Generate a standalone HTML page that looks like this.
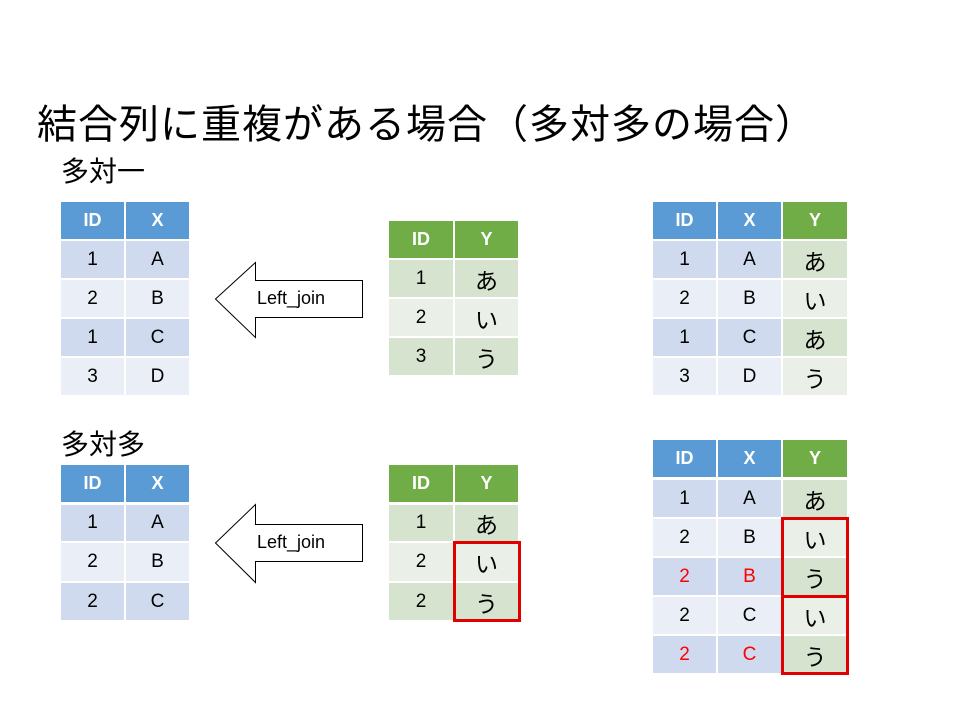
<!DOCTYPE html>
<html><head><meta charset="utf-8"><style>
body{margin:0;background:#fff;}
#p{position:relative;width:960px;height:720px;overflow:hidden;font-family:"Liberation Sans","Noto Sans CJK JP",sans-serif;}
.c{position:absolute;display:flex;align-items:center;justify-content:center;font-size:19px;color:#000;}
.k{font-size:23px;}
.hb{background:#5B9BD5;color:#fff;font-weight:bold;font-size:18px;}
.hg{background:#70AD47;color:#fff;font-weight:bold;font-size:18px;}
.b1{background:#CFDAEE;}
.b2{background:#E9EEF7;}
.g1{background:#D5E3CF;}
.g2{background:#EAF0E7;}
.r{color:#F00;}
.t{position:absolute;white-space:nowrap;color:#000;}
.box{position:absolute;border:3px solid #E00000;box-sizing:border-box;}
</style></head><body><div id="p">
<div class="t" style="left:37px;top:92px;font-size:40px;letter-spacing:1px;">結合列に重複がある場合（多対多の場合）</div>
<div class="t" style="left:61px;top:150px;font-size:28px;">多対一</div>
<div class="t" style="left:61px;top:423px;font-size:28px;">多対多</div>

<div class="c hb" style="left:61px;top:202px;width:63px;height:37px">ID</div>
<div class="c hb" style="left:126px;top:202px;width:63px;height:37px">X</div>
<div class="c b1" style="left:61px;top:241px;width:63px;height:37px">1</div>
<div class="c b1" style="left:126px;top:241px;width:63px;height:37px">A</div>
<div class="c b2" style="left:61px;top:280px;width:63px;height:37px">2</div>
<div class="c b2" style="left:126px;top:280px;width:63px;height:37px">B</div>
<div class="c b1" style="left:61px;top:319px;width:63px;height:37px">1</div>
<div class="c b1" style="left:126px;top:319px;width:63px;height:37px">C</div>
<div class="c b2" style="left:61px;top:358px;width:63px;height:37px">3</div>
<div class="c b2" style="left:126px;top:358px;width:63px;height:37px">D</div>

<div class="c hg" style="left:389px;top:221px;width:64px;height:37px">ID</div>
<div class="c hg" style="left:455px;top:221px;width:63px;height:37px">Y</div>
<div class="c g1" style="left:389px;top:260px;width:64px;height:37px">1</div>
<div class="c g1 k" style="left:455px;top:260px;width:63px;height:37px">あ</div>
<div class="c g2" style="left:389px;top:299px;width:64px;height:37px">2</div>
<div class="c g2 k" style="left:455px;top:299px;width:63px;height:37px">い</div>
<div class="c g1" style="left:389px;top:338px;width:64px;height:37px">3</div>
<div class="c g1 k" style="left:455px;top:338px;width:63px;height:37px">う</div>

<div class="c hb" style="left:653px;top:202px;width:63px;height:37px">ID</div>
<div class="c hb" style="left:718px;top:202px;width:63px;height:37px">X</div>
<div class="c hg" style="left:783px;top:202px;width:64px;height:37px">Y</div>
<div class="c b1" style="left:653px;top:241px;width:63px;height:37px">1</div>
<div class="c b1" style="left:718px;top:241px;width:63px;height:37px">A</div>
<div class="c g1 k" style="left:783px;top:241px;width:64px;height:37px">あ</div>
<div class="c b2" style="left:653px;top:280px;width:63px;height:37px">2</div>
<div class="c b2" style="left:718px;top:280px;width:63px;height:37px">B</div>
<div class="c g2 k" style="left:783px;top:280px;width:64px;height:37px">い</div>
<div class="c b1" style="left:653px;top:319px;width:63px;height:37px">1</div>
<div class="c b1" style="left:718px;top:319px;width:63px;height:37px">C</div>
<div class="c g1 k" style="left:783px;top:319px;width:64px;height:37px">あ</div>
<div class="c b2" style="left:653px;top:358px;width:63px;height:37px">3</div>
<div class="c b2" style="left:718px;top:358px;width:63px;height:37px">D</div>
<div class="c g2 k" style="left:783px;top:358px;width:64px;height:37px">う</div>

<div class="c hb" style="left:61px;top:465px;width:63px;height:37px">ID</div>
<div class="c hb" style="left:126px;top:465px;width:63px;height:37px">X</div>
<div class="c b1" style="left:61px;top:505px;width:63px;height:36px">1</div>
<div class="c b1" style="left:126px;top:505px;width:63px;height:36px">A</div>
<div class="c b2" style="left:61px;top:543px;width:63px;height:38px">2</div>
<div class="c b2" style="left:126px;top:543px;width:63px;height:38px">B</div>
<div class="c b1" style="left:61px;top:583px;width:63px;height:37px">2</div>
<div class="c b1" style="left:126px;top:583px;width:63px;height:37px">C</div>

<div class="c hg" style="left:389px;top:465px;width:64px;height:37px">ID</div>
<div class="c hg" style="left:455px;top:465px;width:63px;height:37px">Y</div>
<div class="c g1" style="left:389px;top:505px;width:64px;height:36px">1</div>
<div class="c g1 k" style="left:455px;top:505px;width:63px;height:36px">あ</div>
<div class="c g2" style="left:389px;top:543px;width:64px;height:38px">2</div>
<div class="c g2 k" style="left:455px;top:543px;width:63px;height:38px">い</div>
<div class="c g1" style="left:389px;top:583px;width:64px;height:37px">2</div>
<div class="c g1 k" style="left:455px;top:583px;width:63px;height:37px">う</div>
<div class="box" style="left:453px;top:541px;width:68px;height:81px"></div>

<div class="c hb" style="left:653px;top:440px;width:63px;height:37px">ID</div>
<div class="c hb" style="left:718px;top:440px;width:63px;height:37px">X</div>
<div class="c hg" style="left:783px;top:440px;width:64px;height:37px">Y</div>
<div class="c b1" style="left:653px;top:480px;width:63px;height:37px">1</div>
<div class="c b1" style="left:718px;top:480px;width:63px;height:37px">A</div>
<div class="c g1 k" style="left:783px;top:480px;width:64px;height:37px">あ</div>
<div class="c b2" style="left:653px;top:519px;width:63px;height:37px">2</div>
<div class="c b2" style="left:718px;top:519px;width:63px;height:37px">B</div>
<div class="c g2 k" style="left:783px;top:519px;width:64px;height:37px">い</div>
<div class="c b1 r" style="left:653px;top:558px;width:63px;height:37px">2</div>
<div class="c b1 r" style="left:718px;top:558px;width:63px;height:37px">B</div>
<div class="c g1 k" style="left:783px;top:558px;width:64px;height:37px">う</div>
<div class="c b2" style="left:653px;top:597px;width:63px;height:37px">2</div>
<div class="c b2" style="left:718px;top:597px;width:63px;height:37px">C</div>
<div class="c g2 k" style="left:783px;top:597px;width:64px;height:37px">い</div>
<div class="c b1 r" style="left:653px;top:636px;width:63px;height:37px">2</div>
<div class="c b1 r" style="left:718px;top:636px;width:63px;height:37px">C</div>
<div class="c g1 k" style="left:783px;top:636px;width:64px;height:37px">う</div>
<div class="box" style="left:781px;top:517px;width:68px;height:81px"></div>
<div class="box" style="left:781px;top:595px;width:68px;height:80px"></div>

<svg style="position:absolute;left:0;top:0" width="960" height="720">
<polygon points="215.5,299 255.5,262.5 255.5,280.5 362.5,280.5 362.5,317.5 255.5,317.5 255.5,337.5" fill="#fff" stroke="#000" stroke-width="1"/>
<polygon points="215.5,543 255.5,504.5 255.5,524.5 362.5,524.5 362.5,561.5 255.5,561.5 255.5,582.5" fill="#fff" stroke="#000" stroke-width="1"/>
</svg>
<div class="t" style="left:257px;top:288px;font-size:18px;">Left_join</div>
<div class="t" style="left:257px;top:532px;font-size:18px;">Left_join</div>
</div></body></html>
